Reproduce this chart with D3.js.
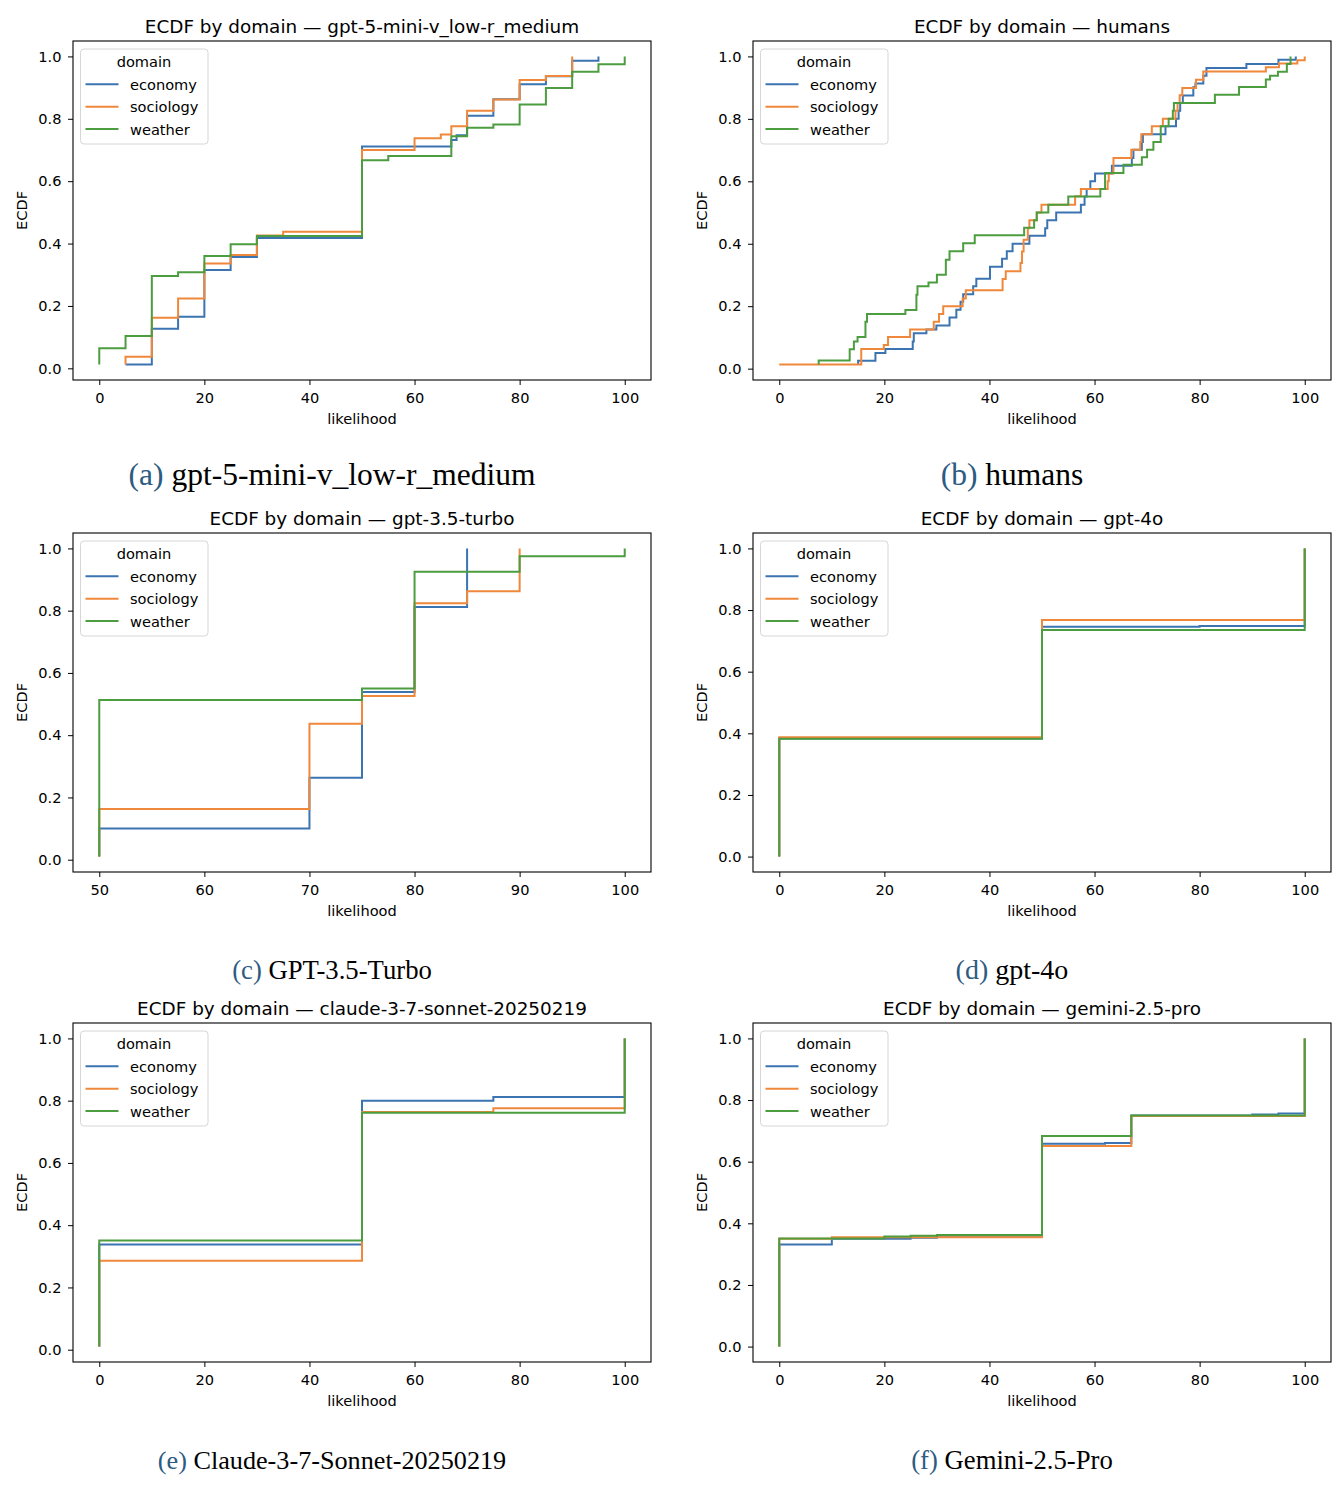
<!DOCTYPE html>
<html>
<head>
<meta charset="utf-8">
<script src="https://cdn.jsdelivr.net/npm/d3@7"></script>
<style>
  body { margin: 0; background: #fff; }
  svg { display: block; font-family: "DejaVu Sans", sans-serif; }
</style>
</head>
<body>
<div id="main"></div>
<script>
// step points: [likelihood, ecdf]; first pair is where the line starts
var gpt5Economy = [[5,0.012],[10,0.127],[15,0.165],[20,0.315],[25,0.357],[30,0.418],[50,0.711],[67,0.732],[68,0.747],[70,0.81],[75,0.863],[80,0.911],[85,0.936],[90,0.986],[95,1.0]]
var gpt5Sociology = [[5,0.012],[5,0.037],[10,0.162],[15,0.224],[20,0.336],[25,0.363],[30,0.426],[35,0.438],[50,0.700],[60,0.738],[65,0.750],[67,0.776],[70,0.826],[75,0.862],[80,0.924],[85,0.937],[90,1.0]]
var gpt5Weather = [[0,0.012],[0,0.064],[5,0.104],[10,0.296],[15,0.308],[20,0.360],[25,0.398],[30,0.424],[50,0.667],[55,0.681],[67,0.744],[70,0.771],[75,0.782],[80,0.846],[85,0.899],[90,0.951],[95,0.975],[100,1.0]]

var humansEconomy = [[15.0,0.013],[15.0,0.025],[18.3,0.05],[20.2,0.063],[25.4,0.087],[25.6,0.113],[28.0,0.125],[29.9,0.138],[32.4,0.164],[33.7,0.189],[34.5,0.214],[35.0,0.238],[36.9,0.264],[37.5,0.288],[40.1,0.326],[42.4,0.352],[43.3,0.376],[44.4,0.400],[47.6,0.426],[50.6,0.45],[51.0,0.475],[52.7,0.50],[57.4,0.525],[58.1,0.551],[58.5,0.575],[59.2,0.60],[60.1,0.625],[63.3,0.650],[67.1,0.675],[67.4,0.701],[69.0,0.726],[69.2,0.751],[73.5,0.776],[75.5,0.80],[76.0,0.826],[76.3,0.851],[76.8,0.875],[78.8,0.901],[79.2,0.913],[80.7,0.938],[81.3,0.963],[88.9,0.976],[95.0,0.989],[98.3,1.0]]
var humansSociology = [[0,0.013],[15.6,0.063],[19.9,0.076],[20.7,0.101],[24.9,0.125],[29.4,0.150],[30.4,0.175],[31.2,0.20],[34.9,0.225],[35.5,0.251],[42.5,0.287],[43.1,0.312],[45.9,0.338],[46.2,0.375],[46.5,0.413],[47.3,0.450],[47.6,0.475],[49.0,0.50],[49.9,0.525],[56.3,0.552],[57.4,0.575],[62.5,0.60],[62.7,0.625],[63.6,0.675],[67.0,0.701],[68.7,0.726],[68.9,0.751],[70.9,0.776],[73.0,0.80],[75.4,0.826],[75.8,0.851],[76.2,0.876],[76.7,0.899],[79.3,0.925],[80.7,0.952],[92.6,0.965],[95.1,0.977],[98.6,0.988],[100,1.0]]
var humansWeather = [[7.5,0.013],[7.5,0.026],[13.4,0.062],[14.2,0.087],[14.9,0.101],[16.4,0.150],[16.7,0.175],[24.0,0.188],[26.1,0.237],[26.3,0.264],[28.4,0.276],[30.0,0.301],[31.7,0.349],[32.4,0.376],[35.0,0.402],[37.2,0.427],[46.6,0.451],[48.5,0.475],[49.0,0.50],[51.2,0.525],[55.0,0.551],[61.1,0.575],[62.0,0.627],[65.5,0.653],[69.0,0.677],[70.0,0.701],[71.2,0.726],[72.6,0.776],[74.1,0.80],[74.9,0.826],[75.1,0.851],[82.9,0.877],[87.5,0.902],[92.6,0.926],[93.4,0.938],[94.9,0.951],[96.6,0.976],[97.3,1.0]]

var gpt35Economy = [[50,0.01],[50,0.10],[70,0.263],[75,0.539],[80,0.812],[85,1.0]]
var gpt35Sociology = [[50,0.01],[50,0.163],[70,0.437],[75,0.526],[80,0.824],[85,0.862],[90,1.0]]
var gpt35Weather = [[50,0.01],[50,0.513],[75,0.55],[80,0.925],[90,0.975],[100,1.0]]

var gpt4oEconomy = [[0,0],[0,0.383],[50,0.746],[80,0.748],[100,1.0]]
var gpt4oSociology = [[0,0],[0,0.387],[50,0.768],[100,1.0]]
var gpt4oWeather = [[0,0],[0,0.382],[50,0.735],[100,1.0]]

var claudeEconomy = [[0,0.01],[0,0.338],[50,0.80],[75,0.812],[100,1.0]]
var claudeSociology = [[0,0.01],[0,0.286],[50,0.764],[75,0.776],[100,1.0]]
var claudeWeather = [[0,0.01],[0,0.351],[50,0.761],[100,1.0]]

var geminiEconomy = [[0,0],[0,0.331],[10,0.350],[25,0.353],[30,0.36],[50,0.658],[62,0.661],[67,0.750],[90,0.753],[95,0.756],[100,1.0]]
var geminiSociology = [[0,0],[0,0.35],[10,0.355],[50,0.651],[67,0.748],[100,1.0]]
var geminiWeather = [[0,0],[0,0.351],[20,0.357],[25,0.36],[30,0.362],[50,0.683],[67,0.75],[100,1.0]]

var domains = ['economy', 'sociology', 'weather']
var colors = ['#3b74b0', '#f0883b', '#4c9d3f']
var yTicks = [0, 0.2, 0.4, 0.6, 0.8, 1.0]

var panels = [
  { model: 'gpt-5-mini-v_low-r_medium', tag: '(a)', caption: 'gpt-5-mini-v_low-r_medium', series: [gpt5Economy, gpt5Sociology, gpt5Weather], xTicks: [0, 20, 40, 60, 80, 100] },
  { model: 'humans', tag: '(b)', caption: 'humans', series: [humansEconomy, humansSociology, humansWeather], xTicks: [0, 20, 40, 60, 80, 100] },
  { model: 'gpt-3.5-turbo', tag: '(c)', caption: 'GPT-3.5-Turbo', series: [gpt35Economy, gpt35Sociology, gpt35Weather], xTicks: [50, 60, 70, 80, 90, 100] },
  { model: 'gpt-4o', tag: '(d)', caption: 'gpt-4o', series: [gpt4oEconomy, gpt4oSociology, gpt4oWeather], xTicks: [0, 20, 40, 60, 80, 100] },
  { model: 'claude-3-7-sonnet-20250219', tag: '(e)', caption: 'Claude-3-7-Sonnet-20250219', series: [claudeEconomy, claudeSociology, claudeWeather], xTicks: [0, 20, 40, 60, 80, 100] },
  { model: 'gemini-2.5-pro', tag: '(f)', caption: 'Gemini-2.5-Pro', series: [geminiEconomy, geminiSociology, geminiWeather], xTicks: [0, 20, 40, 60, 80, 100] }
]

var W = 1344, H = 1486
var colLeft = [73, 753]
var rowTop = [41, 533, 1023]
var frameW = 578, frameH = 339
var fs = 14.6
// the sub-captions are not all set at the same size in the source figure
var captionFontSize = [31.5, 31.5, 26.7, 28, 26.2, 26.7]

var svg = d3.select('#main').append('svg').attr('width', W).attr('height', H)
svg.append('rect').attr('width', W).attr('height', H).attr('fill', '#fff')

panels.forEach(function (p, i) {
  drawPanel(p, colLeft[i % 2], rowTop[Math.floor(i / 2)], captionFontSize[i])
})

// matplotlib style autoscale: 5% margin on each side
function padded (lo, hi) {
  var m = (hi - lo) * 0.05
  return [lo - m, hi + m]
}

function drawPanel (p, left, top, capSize) {
  var all = d3.merge(p.series)
  var x = d3.scaleLinear()
    .domain(padded(d3.min(all, function (d) { return d[0] }), d3.max(all, function (d) { return d[0] })))
    .range([0, frameW])
  var y = d3.scaleLinear()
    .domain(padded(d3.min(all, function (d) { return d[1] }), d3.max(all, function (d) { return d[1] })))
    .range([frameH, 0])

  var g = svg.append('g').attr('transform', 'translate(' + left + ',' + top + ')')

  var line = d3.line()
    .x(function (d) { return x(d[0]) })
    .y(function (d) { return y(d[1]) })
    .curve(d3.curveStepAfter)

  p.series.forEach(function (s, k) {
    g.append('path')
      .attr('d', line(s))
      .attr('fill', 'none')
      .attr('stroke', colors[k])
      .attr('stroke-width', 2)
      .attr('stroke-linejoin', 'miter')
  })

  var xAxis = g.append('g')
    .attr('transform', 'translate(0,' + frameH + ')')
    .call(d3.axisBottom(x).tickValues(p.xTicks).tickFormat(d3.format('d')).tickSizeInner(5).tickSizeOuter(0).tickPadding(7.6))
  var yAxis = g.append('g')
    .call(d3.axisLeft(y).tickValues(yTicks).tickFormat(d3.format('.1f')).tickSizeInner(5).tickSizeOuter(0).tickPadding(6.5))

  ;[xAxis, yAxis].forEach(function (a) {
    a.select('.domain').remove()
    a.selectAll('line').attr('stroke', '#000').attr('stroke-width', 1)
    a.selectAll('text').attr('fill', '#000').style('font-size', fs + 'px').style('font-family', '"DejaVu Sans"')
  })

  g.append('rect')
    .attr('x', 0).attr('y', 0)
    .attr('width', frameW).attr('height', frameH)
    .attr('fill', 'none').attr('stroke', '#000').attr('stroke-width', 1.1)

  g.append('text')
    .attr('x', frameW / 2).attr('y', -8.3)
    .attr('text-anchor', 'middle')
    .style('font-size', '18.4px')
    .text('ECDF by domain \u2014 ' + p.model)

  g.append('text')
    .attr('x', frameW / 2).attr('y', frameH + 43.5)
    .attr('text-anchor', 'middle')
    .style('font-size', fs + 'px')
    .text('likelihood')

  g.append('text')
    .attr('transform', 'translate(-45.7,' + (frameH / 2) + ') rotate(-90)')
    .attr('text-anchor', 'middle')
    .style('font-size', fs + 'px')
    .text('ECDF')

  // legend
  var lg = g.append('g').attr('transform', 'translate(7.5,8)')
  lg.append('rect')
    .attr('width', 127.5).attr('height', 95)
    .attr('rx', 3.5)
    .attr('fill', '#fff').attr('fill-opacity', 0.8)
    .attr('stroke', '#d6d6d6').attr('stroke-width', 1)
  lg.append('text')
    .attr('x', 63.5).attr('y', 17.7)
    .attr('text-anchor', 'middle')
    .style('font-size', fs + 'px')
    .text('domain')
  var entry = lg.selectAll('.entry').data(domains).enter()
    .append('g')
    .classed('entry', true)
    .attr('transform', function (d, k) { return 'translate(0,' + (35.3 + k * 22.4) + ')' })
  entry.append('line')
    .attr('x1', 5).attr('x2', 38)
    .attr('stroke', function (d, k) { return colors[k] })
    .attr('stroke-width', 2)
  entry.append('text')
    .attr('x', 49.5).attr('y', 5.5)
    .style('font-size', fs + 'px')
    .text(function (d) { return d })

  // sub-figure caption
  var cap = svg.append('text')
    .attr('x', left + frameW / 2 - 30)
    .attr('y', top + (capSize > 30 ? 444 : 446))
    .attr('text-anchor', 'middle')
    .style('font-family', '"Liberation Serif", "Times New Roman", serif')
    .style('font-size', capSize + 'px')
  cap.append('tspan').attr('fill', '#2d5b82').text(p.tag)
  cap.append('tspan').attr('fill', '#000').text(' ' + p.caption)
}
</script>
</body>
</html>
